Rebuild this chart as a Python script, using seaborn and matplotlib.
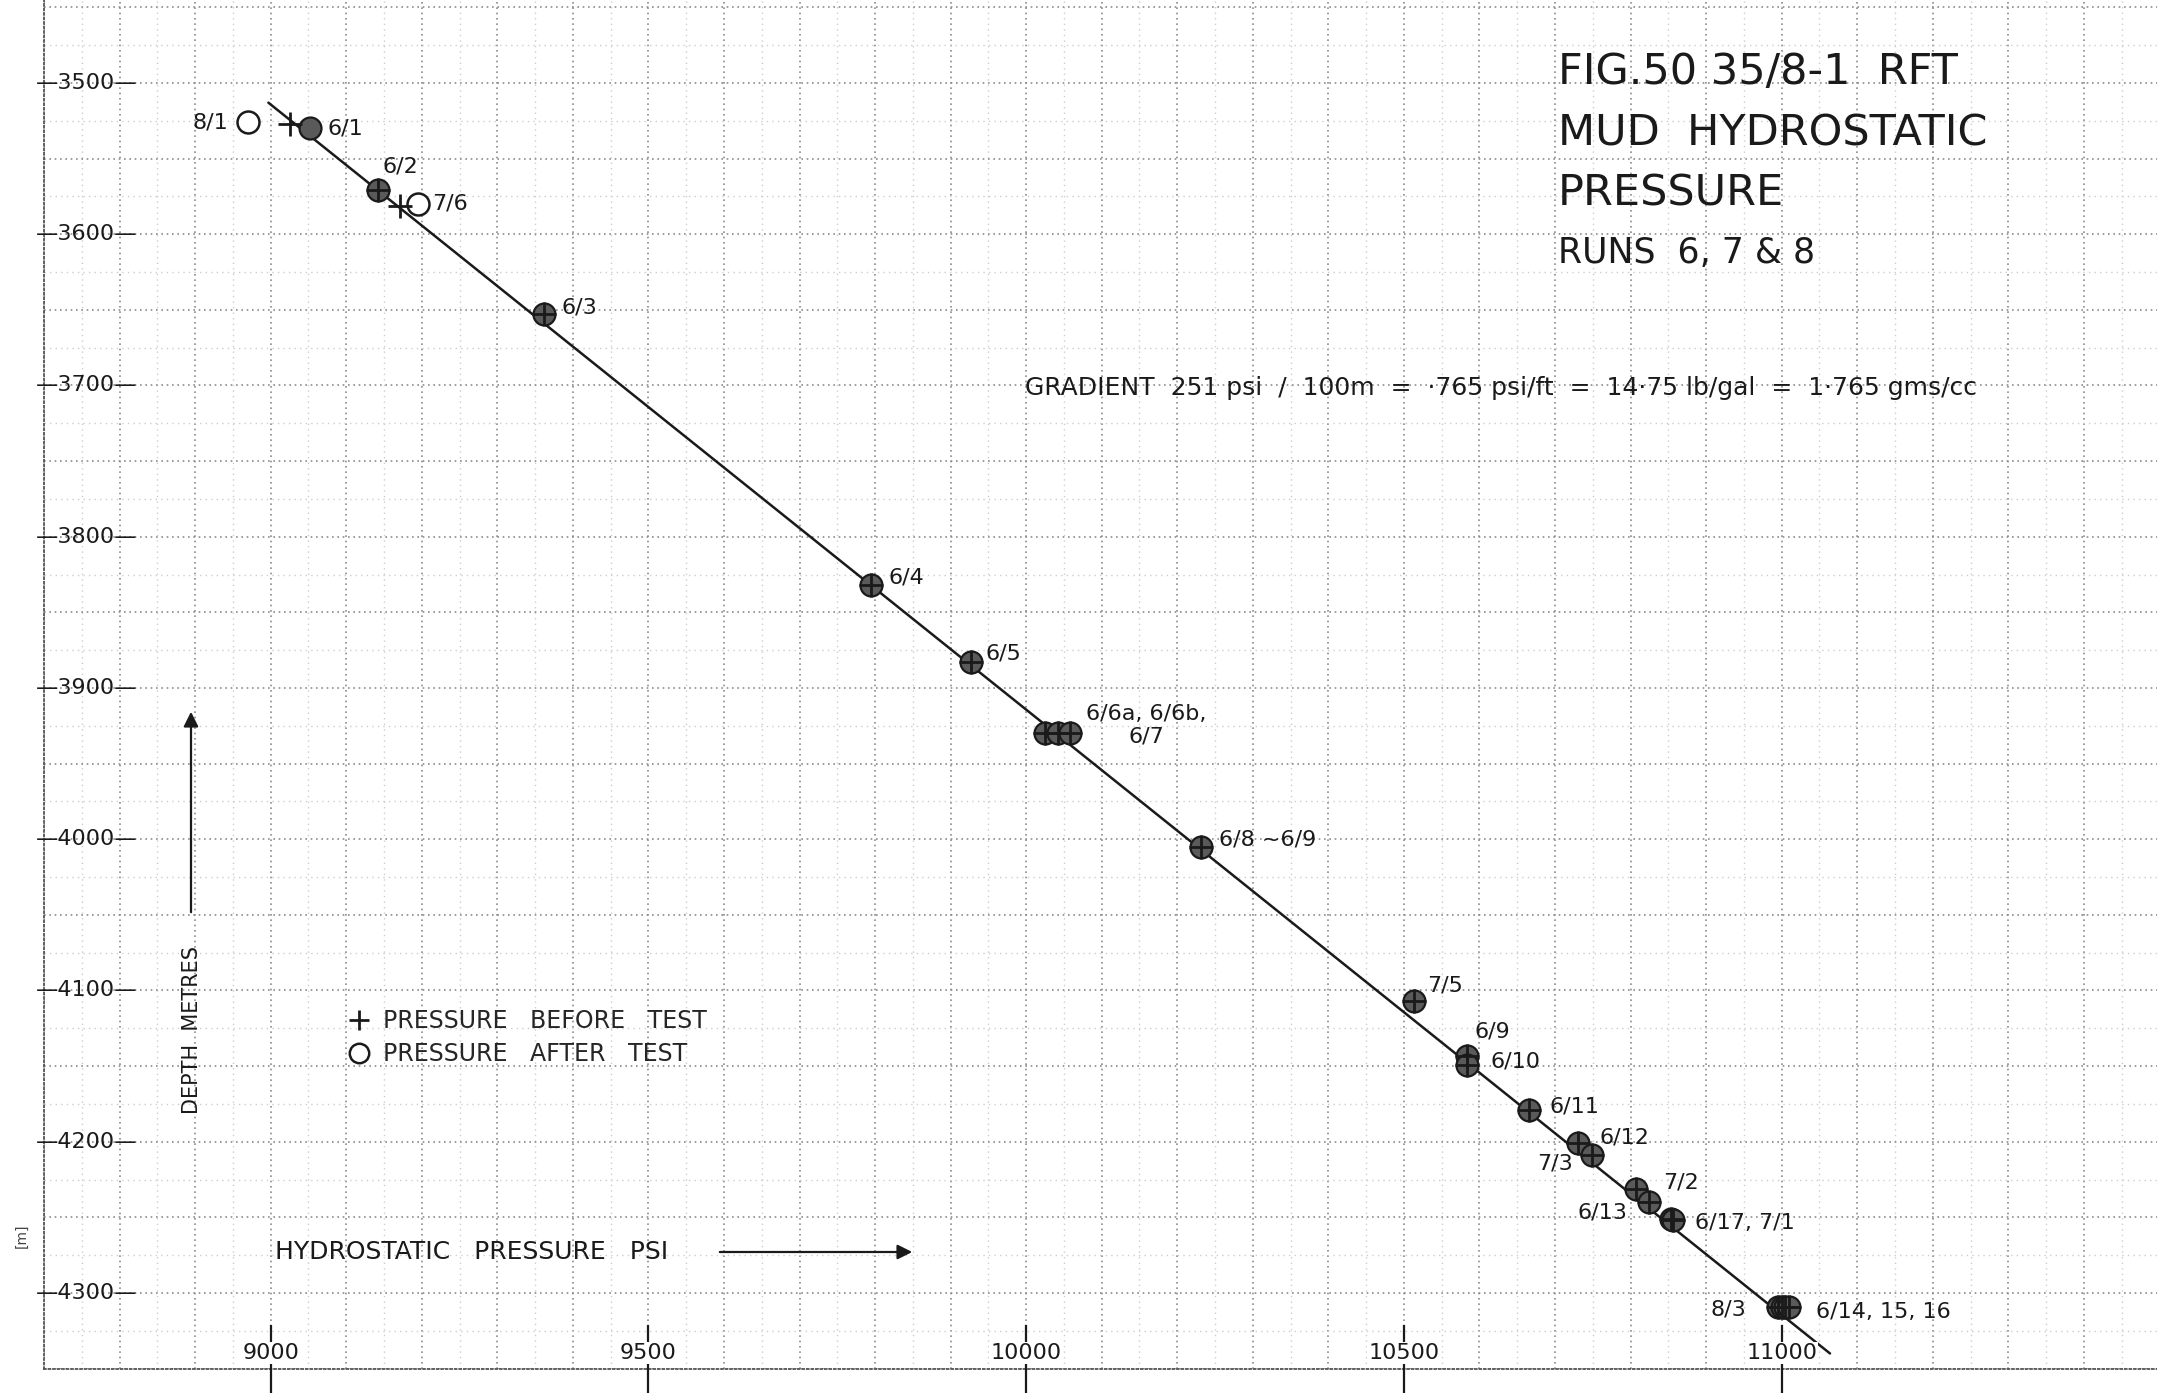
import numpy as np
import matplotlib
matplotlib.use("Agg")
import matplotlib.pyplot as plt
from matplotlib.ticker import MultipleLocator
from matplotlib.lines import Line2D
import seaborn as sns
import pandas as pd

# ---------------------------------------------------------------------------
# RFT mud hydrostatic pressure, runs 6, 7 & 8 (pressure in psi, depth in m)
# ---------------------------------------------------------------------------
after_station = ["8/1", "6/1", "6/2", "7/6", "6/3", "6/4", "6/5", "6/6a", "6/6b",
                 "6/7", "6/8", "7/5", "6/9", "6/10", "6/11", "6/12", "7/3", "7/2",
                 "6/13", "6/17", "7/1", "8/3", "6/14", "6/15", "6/16"]
after_psi = [8970, 9052, 9142, 9195, 9362, 9795, 9927, 10025, 10042,
             10058, 10231, 10514, 10583, 10583, 10666, 10731, 10749, 10807,
             10825, 10854, 10856, 10995, 11000, 11005, 11010]
after_depth = [3526, 3530, 3571, 3580, 3653, 3832, 3883, 3930, 3930,
               3930, 4005, 4107, 4143, 4149, 4179, 4201, 4209, 4231,
               4240, 4251, 4252, 4309, 4309, 4309, 4309]

before_station = ["6/1", "6/2", "7/6", "6/3", "6/4", "6/5", "6/6a", "6/6b",
                  "6/7", "6/8", "7/5", "6/9", "6/10", "6/11", "6/12", "7/3", "7/2",
                  "6/13", "6/17", "7/1", "8/3", "6/14", "6/15", "6/16"]
before_psi = [9025, 9142, 9171, 9362, 9795, 9927, 10025, 10042,
              10058, 10231, 10514, 10583, 10583, 10666, 10731, 10749, 10807,
              10825, 10854, 10856, 10995, 11000, 11005, 11010]
before_depth = [3527, 3571, 3581, 3653, 3832, 3883, 3930, 3930,
                3930, 4005, 4107, 4143, 4149, 4179, 4201, 4209, 4231,
                4240, 4251, 4252, 4309, 4309, 4309, 4309]

# stations recorded only as an after-test reading with no coincident before reading
open_stations = ["8/1", "7/6"]

# mud gradient line: 251 psi / 100 m
gradient_psi = [8997, 11064]
gradient_depth = [3513, 4340]

x_ticks = [9000, 9500, 10000, 10500, 11000]
y_ticks = [3500, 3600, 3700, 3800, 3900, 4000, 4100, 4200, 4300]

point_labels = ["8/1", "6/1", "6/2", "7/6", "6/3", "6/4", "6/5", "6/6a, 6/6b,\n6/7",
                "6/8 ~6/9", "7/5", "6/9", "6/10", "6/11", "6/12", "7/3", "7/2",
                "6/13", "6/17, 7/1", "8/3", "6/14, 15, 16"]
label_anchor = ["8/1", "6/1", "6/2", "7/6", "6/3", "6/4", "6/5", "6/7",
                "6/8", "7/5", "6/9", "6/10", "6/11", "6/12", "7/3", "7/2",
                "6/13", "6/17", "8/3", "6/16"]

# label placement: (dx, dy) in pixels (dy downward) and horizontal alignment
label_layout = [(-20, 0, "right"), (18, 0, "left"), (5, -24, "left"), (14, 0, "left"),
                (17, -7, "left"), (17, -8, "left"), (15, -9, "left"), (76, -8, "center"),
                (18, -7, "left"), (13, -16, "left"), (8, -24, "left"), (24, -3, "left"),
                (20, -3, "left"), (21, -6, "left"), (-19, 8, "right"), (27, -6, "left"),
                (-22, 10, "right"), (24, 4, "left"), (-32, 3, "right"), (27, 5, "left")]

# ---------------------------------------------------------------------------
sns.set_theme(style="white")
plt.rcParams["font.family"] = ["DejaVu Sans"]
INK = "#1a1a1a"

W, H = 2157, 1393
fig = plt.figure(figsize=(W / 100, H / 100), dpi=100)
fig.patch.set_facecolor("white")

ax_left, ax_bottom_px = 44, 1368.6
ax = fig.add_axes([ax_left / W, (H - ax_bottom_px) / H, (W - ax_left) / W, ax_bottom_px / H])
ax.set_facecolor("white")
ax.set_xlim(8700, 8700 + (W - ax_left) / 0.7555)
ax.set_ylim(4350, 3500 - 83 / 1.5125)

# graph-paper grid
ax.xaxis.set_major_locator(MultipleLocator(100))
ax.yaxis.set_major_locator(MultipleLocator(50))
ax.xaxis.set_minor_locator(MultipleLocator(50))
ax.yaxis.set_minor_locator(MultipleLocator(25))
ax.grid(which="major", color="#8c8c8c", linestyle=(0, (1, 2.2)), linewidth=1.2, zorder=0)
ax.grid(which="minor", color="#cdcdcd", linestyle=(0, (1, 3)), linewidth=1.0, zorder=0)
ax.tick_params(which="both", length=0, labelbottom=False, labelleft=False)
for side in ["top", "right"]:
    ax.spines[side].set_visible(False)
for side in ["bottom", "left"]:
    ax.spines[side].set_linestyle((0, (1, 1.5)))
    ax.spines[side].set_color("#555555")
    ax.spines[side].set_linewidth(1.3)
ax.set_xlabel("")
ax.set_ylabel("")

# gradient line
sns.lineplot(x=gradient_psi, y=gradient_depth, ax=ax, color=INK, linewidth=1.8,
             sort=False, zorder=2, legend=False)

# after-test readings (circles)
after_df = pd.DataFrame({"psi": after_psi, "depth": after_depth, "station": after_station})
after_df["open"] = after_df["station"].isin(open_stations)
shaded = after_df[~after_df["open"]]
hollow = after_df[after_df["open"]]
sns.scatterplot(data=shaded, x="psi", y="depth", ax=ax, marker="o", s=250,
                color="#5a5a5a", edgecolor=INK, linewidth=1.6, zorder=3, legend=False)
sns.scatterplot(data=hollow, x="psi", y="depth", ax=ax, marker="o", s=250,
                facecolor="white", edgecolor=INK, linewidth=1.8, zorder=3, legend=False)

# before-test readings (plus)
sns.scatterplot(x=before_psi, y=before_depth, ax=ax, marker="+", s=290,
                color=INK, linewidth=2.0, zorder=4, legend=False)

# station labels
lookup = dict(zip(after_station, zip(after_psi, after_depth)))
for text, key, (dx, dy, ha) in zip(point_labels, label_anchor, label_layout):
    ax.annotate(text, xy=lookup[key], xytext=(dx, -dy), textcoords="offset pixels",
                ha=ha, va="center", fontsize=16, color=INK, linespacing=1.2,
                multialignment="center", zorder=5)

# axis tick labels drawn inside the graph paper
for v in y_ticks:
    ax.text(0.0203, v, "\u2014" + str(v) + "\u2014", transform=ax.get_yaxis_transform(),
            ha="center", va="center", fontsize=16, color=INK, zorder=5)
ax.vlines(x_ticks, -0.018, 0.032, transform=ax.get_xaxis_transform(), color=INK,
          linewidth=1.6, clip_on=False, zorder=4)
for v in x_ticks:
    ax.text(v, 0.0114, str(v), transform=ax.get_xaxis_transform(), ha="center", va="center",
            fontsize=16, color=INK, zorder=6,
            bbox=dict(boxstyle="square,pad=0.05", facecolor="white", edgecolor="none"))

# title block
title_x = 1558 / W
fig.text(title_x, 1 - 72 / H, "FIG.50 35/8-1  RFT", fontsize=31, color=INK, va="center")
fig.text(title_x, 1 - 133 / H, "MUD  HYDROSTATIC", fontsize=31, color=INK, va="center")
fig.text(title_x, 1 - 193 / H, "PRESSURE", fontsize=31, color=INK, va="center")
fig.text(title_x, 1 - 253 / H, "RUNS  6, 7 & 8", fontsize=25, color=INK, va="center")

fig.text(1025 / W, 1 - 388 / H,
         "GRADIENT  251 psi  /  100m  =  \u00b7765 psi/ft  =  14\u00b775 lb/gal  =  1\u00b7765 gms/cc",
         fontsize=18, color=INK, va="center")

# legend
handles = [Line2D([], [], marker="+", linestyle="none", color=INK, markersize=15, markeredgewidth=2),
           Line2D([], [], marker="o", linestyle="none", markerfacecolor="white",
                  markeredgecolor=INK, markersize=14, markeredgewidth=1.8)]
ax.legend(handles, ["PRESSURE   BEFORE   TEST", "PRESSURE   AFTER   TEST"],
          loc="upper left", bbox_to_anchor=(348 / W, 1 - 1009 / H), bbox_transform=fig.transFigure,
          frameon=False, fontsize=17, handlelength=0.9, handletextpad=0.6,
          labelspacing=0.4, borderpad=0, borderaxespad=0)

# axis captions with direction arrows
fig.text(192 / W, 1 - 1030 / H, "DEPTH  METRES", rotation=90, fontsize=15, color=INK,
         ha="center", va="center")
fig.text(275 / W, 1 - 1252 / H, "HYDROSTATIC   PRESSURE   PSI", fontsize=18, color=INK,
         ha="left", va="center")
fig.add_artist(matplotlib.patches.FancyArrowPatch((191 / W, 1 - 915 / H), (191 / W, 1 - 709 / H),
               transform=fig.transFigure, arrowstyle="-|>", mutation_scale=22,
               color=INK, linewidth=1.6))
fig.add_artist(matplotlib.patches.FancyArrowPatch((717 / W, 1 - 1252 / H), (915 / W, 1 - 1252 / H),
               transform=fig.transFigure, arrowstyle="-|>", mutation_scale=22,
               color=INK, linewidth=1.6))

# unit stamp at the left margin
fig.text(22 / W, 1 - 1236 / H, "[m]", rotation=90, fontsize=10, color="#444444",
         ha="center", va="center")

fig.savefig("out.png", dpi=100, facecolor="white")
